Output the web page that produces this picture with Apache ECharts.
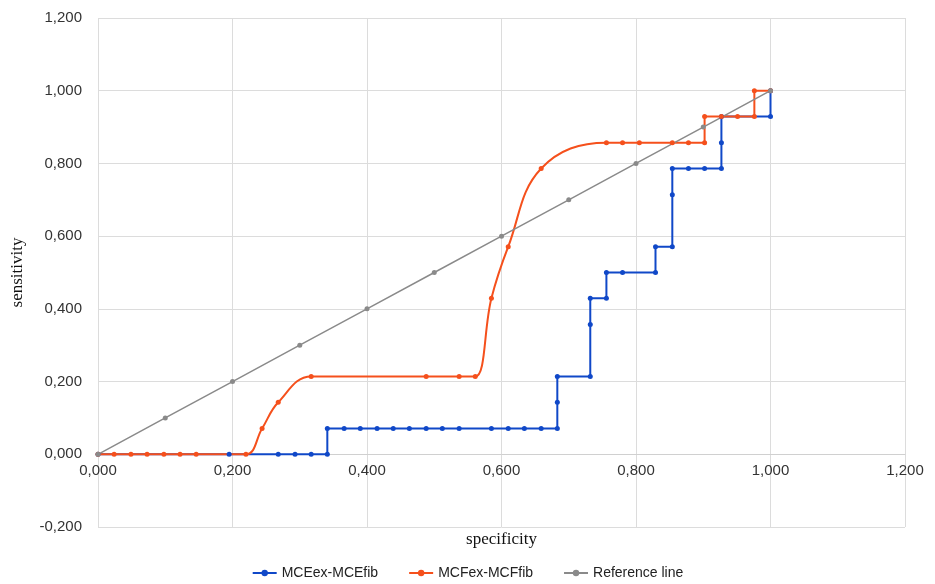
<!DOCTYPE html>
<html>
<head>
<meta charset="utf-8">
<script src="https://cdn.jsdelivr.net/npm/echarts@6/dist/echarts.min.js"></script>
<style>
  html, body { margin: 0; padding: 0; background: #fff; }
  #chart { width: 935px; height: 584px; }
</style>
</head>
<body>
<div id="chart"></div>
<script>
// [specificity, sensitivity] pairs
var mceData = [
  [0, 0], [0.195, 0], [0.268, 0], [0.293, 0], [0.317, 0], [0.341, 0],
  [0.341, 0.071], [0.366, 0.071], [0.390, 0.071], [0.415, 0.071], [0.439, 0.071],
  [0.463, 0.071], [0.488, 0.071], [0.512, 0.071], [0.537, 0.071], [0.585, 0.071],
  [0.610, 0.071], [0.634, 0.071], [0.659, 0.071], [0.683, 0.071],
  [0.683, 0.143], [0.683, 0.214], [0.732, 0.214], [0.732, 0.357], [0.732, 0.429],
  [0.756, 0.429], [0.756, 0.500], [0.780, 0.500], [0.829, 0.500], [0.829, 0.571],
  [0.854, 0.571], [0.854, 0.714], [0.854, 0.786], [0.878, 0.786], [0.902, 0.786],
  [0.927, 0.786], [0.927, 0.857], [0.927, 0.929], [1.0, 0.929], [1.0, 1.0]
]
var mcfData = [
  [0, 0], [0.024, 0], [0.049, 0], [0.073, 0], [0.098, 0], [0.122, 0], [0.146, 0],
  [0.220, 0], [0.244, 0.071], [0.268, 0.143], [0.317, 0.214], [0.488, 0.214],
  [0.537, 0.214], [0.561, 0.214], [0.585, 0.429], [0.610, 0.571], [0.659, 0.786],
  [0.756, 0.857], [0.780, 0.857], [0.805, 0.857], [0.854, 0.857], [0.878, 0.857],
  [0.902, 0.857], [0.902, 0.929], [0.927, 0.929], [0.951, 0.929], [0.976, 0.929],
  [0.976, 1.0], [1.0, 1.0]
]
var refData = [
  [0, 0], [0.1, 0.1], [0.2, 0.2], [0.3, 0.3], [0.4, 0.4], [0.5, 0.5],
  [0.6, 0.6], [0.7, 0.7], [0.8, 0.8], [0.9, 0.9], [1.0, 1.0]
]
var seriesNames = ['MCEex-MCEfib', 'MCFex-MCFfib', 'Reference line']

var yMin = -0.2
var yMax = 1.2

var chart = echarts.init(document.getElementById('chart'))

function fmt(v) {
  return v.toFixed(3).replace('.', ',')
}

var labelStyle = {
  fontFamily: 'Liberation Sans',
  fontSize: 15,
  color: '#333'
}

// move the x axis up so its labels sit under the zero line, like excel does
var gridTop = 18
var gridBottom = 57
var plotH = 584 - gridTop - gridBottom
var zeroOffset = -plotH * (0 - yMin) / (yMax - yMin)

chart.setOption({
  animation: false,
  grid: {
    left: 98,
    right: 30,
    top: gridTop,
    bottom: gridBottom,
    containLabel: false,
    outerBoundsMode: 'none'
  },
  legend: {
    data: seriesNames,
    bottom: -1,
    left: 'center',
    itemWidth: 24,
    itemHeight: 8,
    itemGap: 30,
    textStyle: {
      fontFamily: 'Liberation Sans',
      fontSize: 14,
      color: '#222'
    }
  },
  xAxis: {
    type: 'value',
    min: 0,
    max: 1.2,
    interval: 0.2,
    offset: zeroOffset,
    name: 'specificity',
    nameLocation: 'middle',
    nameGap: 77,
    nameTextStyle: {
      fontFamily: 'Liberation Serif',
      fontSize: 17,
      color: '#111'
    },
    axisLine: { onZero: false, lineStyle: { color: '#d0d0d0' } },
    axisTick: { show: false },
    axisLabel: Object.assign({ margin: 9, formatter: fmt }, labelStyle),
    splitLine: { lineStyle: { color: '#dcdcdc' } }
  },
  yAxis: {
    type: 'value',
    min: yMin,
    max: yMax,
    interval: 0.2,
    name: 'sensitivity',
    nameLocation: 'middle',
    nameGap: 72,
    nameTextStyle: {
      fontFamily: 'Liberation Serif',
      fontSize: 17,
      color: '#111'
    },
    axisLine: { show: false },
    axisTick: { show: false },
    axisLabel: Object.assign({ margin: 16, formatter: fmt }, labelStyle),
    splitLine: { lineStyle: { color: '#dcdcdc' } }
  },
  series: [
    {
      name: seriesNames[0],
      type: 'line',
      data: mceData,
      smooth: 0.4,
      symbol: 'circle',
      symbolSize: 5,
      itemStyle: { color: '#1048c8' },
      lineStyle: { color: '#1048c8', width: 2 }
    },
    {
      name: seriesNames[1],
      type: 'line',
      data: mcfData,
      smooth: 0.4,
      symbol: 'circle',
      symbolSize: 5,
      itemStyle: { color: '#f5501c' },
      lineStyle: { color: '#f5501c', width: 2 }
    },
    {
      name: seriesNames[2],
      type: 'line',
      data: refData,
      symbol: 'circle',
      symbolSize: 5,
      itemStyle: { color: '#8a8a8a' },
      lineStyle: { color: '#8a8a8a', width: 1.5 }
    }
  ]
})
</script>
</body>
</html>
